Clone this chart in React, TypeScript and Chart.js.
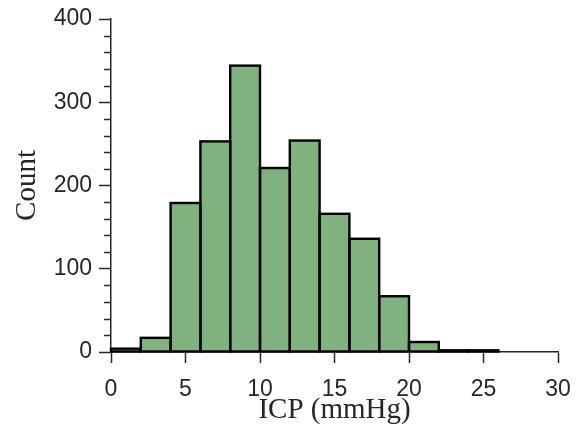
import React, { useEffect, useRef } from "react";
import { Chart, registerables } from "chart.js";

Chart.register(...registerables);

const binStarts = [0, 2, 4, 6, 8, 10, 12, 14, 16, 18, 20, 22, 24];
const binWidth = 2;
const counts = [4, 17, 179, 253, 344, 221, 254, 166, 136, 67, 12, 2, 2];
const xTicksMajor = [0, 5, 10, 15, 20, 25, 30];
const yTicksMajor = [0, 100, 200, 300, 400];
const yMinorStep = 20;

const AXIS = "#262626";

const outlinePlugin = {
  id: "histOutline",
  afterDatasetsDraw(chart: any) {
    const ctx = chart.ctx;
    const meta = chart.getDatasetMeta(0);
    ctx.save();
    ctx.strokeStyle = "#000";
    ctx.lineWidth = 2.4;
    ctx.lineJoin = "miter";
    meta.data.forEach((el: any) => {
      const p = el.getProps(["x", "y", "base", "width"], true);
      const l = p.x - p.width / 2;
      ctx.strokeRect(l, p.y, p.width, p.base - p.y);
    });
    ctx.restore();
  },
};

const minorTickPlugin = {
  id: "minorTicks",
  afterDraw(chart: any) {
    const ctx = chart.ctx;
    const ys = chart.scales.y;
    const left = chart.chartArea.left;
    ctx.save();
    ctx.strokeStyle = AXIS;
    ctx.lineWidth = 1.5;
    for (let v = ys.min; v <= ys.max; v += yMinorStep) {
      if (yTicksMajor.includes(v)) continue;
      const y = Math.round(ys.getPixelForValue(v)) + 0.5;
      ctx.beginPath();
      ctx.moveTo(left - 7, y);
      ctx.lineTo(left, y);
      ctx.stroke();
    }
    ctx.restore();
  },
};

export default function App() {
  const ref = useRef<HTMLCanvasElement>(null);
  useEffect(() => {
    document.body.style.margin = "0";
    const canvas = ref.current!;
    const chart = new Chart(canvas, {
      type: "bar",
      data: {
        datasets: [
          {
            data: binStarts.map((s, i) => ({ x: s + binWidth / 2, y: counts[i] })),
            backgroundColor: "rgb(128,178,127)",
            borderWidth: 0,
            barPercentage: 1,
            categoryPercentage: 1,
            grouped: false,
          } as any,
        ],
      },
      options: {
        animation: false,
        responsive: false,
        events: [],
        layout: { padding: { left: 0, top: 19, right: 23, bottom: 0 } },
        plugins: { legend: { display: false }, tooltip: { enabled: false } },
        scales: {
          x: {
            type: "linear",
            offset: false,
            min: 0,
            max: 30,
            afterBuildTicks: (s: any) => {
              s.ticks = xTicksMajor.map((v) => ({ value: v }));
            },
            afterFit: (s: any) => {
              s.height = 82;
              s.paddingLeft = 0;
              s.paddingRight = 0;
            },
            ticks: {
              font: { family: "Liberation Sans", size: 23 },
              color: AXIS,
              padding: 13,
              maxRotation: 0,
            },
            grid: {
              offset: false,
              drawOnChartArea: false,
              drawTicks: true,
              tickLength: 11,
              tickWidth: 1.5,
              tickColor: AXIS,
            },
            border: { display: true, color: AXIS, width: 1.5 },
            title: {
              display: true,
              text: "ICP (mmHg)",
              font: { family: "Liberation Serif", size: 29 },
              color: AXIS,
              padding: { top: 0, bottom: 6 },
            },
          },
          y: {
            type: "linear",
            min: 0,
            max: 400,
            afterBuildTicks: (s: any) => {
              s.ticks = yTicksMajor.map((v) => ({ value: v }));
            },
            afterFit: (s: any) => {
              s.width = 111;
              s.paddingTop = 0;
              s.paddingBottom = 0;
            },
            ticks: {
              font: { family: "Liberation Sans", size: 23 },
              color: AXIS,
              padding: 7,
            },
            grid: {
              drawOnChartArea: false,
              drawTicks: true,
              tickLength: 12,
              tickWidth: 1.5,
              tickColor: AXIS,
            },
            border: { display: true, color: AXIS, width: 1.5 },
            title: {
              display: true,
              text: "Count",
              font: { family: "Liberation Serif", size: 29 },
              color: AXIS,
              padding: { top: 10, bottom: 0 },
            },
          },
        },
      },
      plugins: [outlinePlugin, minorTickPlugin],
    });
    return () => chart.destroy();
  }, []);
  return (
    <canvas
      ref={ref}
      width={581}
      height={434}
      style={{ display: "block", width: 581, height: 434 }}
    />
  );
}
